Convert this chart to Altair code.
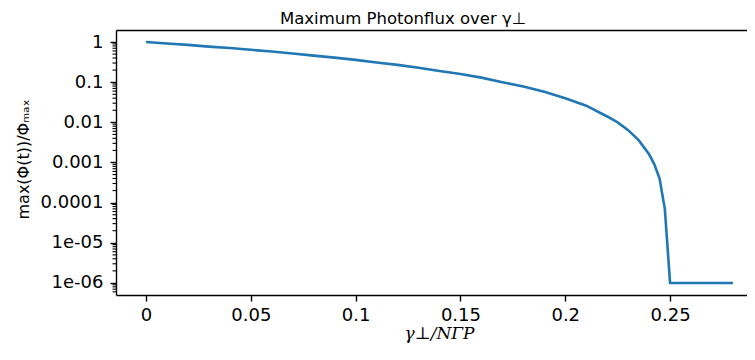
import altair as alt
import pandas as pd

# Data
gamma = [0.0, 0.01, 0.02, 0.03, 0.04, 0.05, 0.06, 0.07, 0.08, 0.09, 0.10,
         0.11, 0.12, 0.13, 0.14, 0.15, 0.16, 0.17, 0.18, 0.19, 0.20,
         0.21, 0.22, 0.225, 0.23, 0.235, 0.24, 0.2425, 0.245, 0.2475,
         0.25, 0.26, 0.27, 0.28]
flux = [1.0, 0.92, 0.85, 0.77, 0.71, 0.64, 0.58, 0.52, 0.46, 0.41, 0.36,
        0.31, 0.27, 0.23, 0.19, 0.16, 0.13, 0.10, 0.078, 0.058, 0.04,
        0.026, 0.014, 0.01, 0.0064, 0.0036, 0.0016, 0.0009, 0.0004, 0.00007,
        1e-6, 1e-6, 1e-6, 1e-6]

x_ticks = [0, 0.05, 0.1, 0.15, 0.2, 0.25]
x_labels = ["0", "0.05", "0.1", "0.15", "0.2", "0.25"]
y_ticks = [1, 0.1, 0.01, 0.001, 0.0001, 1e-5, 1e-6]
y_labels = ["1", "0.1", "0.01", "0.001", "0.0001", "1e-05", "1e-06"]
minor_mult = [2, 3, 4, 5, 6, 7, 8, 9]
minor_decades = [-7, -6, -5, -4, -3, -2, -1, 0]

df = pd.DataFrame({"x": gamma, "v": flux})
minor_vals = [m * 10.0 ** d for d in minor_decades for m in minor_mult]
minor_vals = [v for v in minor_vals if 5.01e-7 <= v <= 1.99]
df_minor = pd.DataFrame({"v": minor_vals})

FONT = "DejaVu Sans"
FS = 18

# plot area spans page x 116..747 (631 px); 2096 px per unit
xscale = alt.Scale(domain=[-0.0143, 0.2867], nice=False, zero=False)
yscale = alt.Scale(type="log", domain=[5.01e-7, 1.995], nice=False)

xlab_expr = "[" + ",".join("'%s'" % s for s in x_labels) + "][round(datum.value/0.05)]"
ylab_expr = "[" + ",".join("'%s'" % s for s in y_labels) + "][round(-log(datum.value)/LN10)]"

x_axis = alt.Axis(
    values=x_ticks, labelExpr=xlab_expr, grid=False,
    domainColor="black", domainWidth=1.4, tickColor="black", tickWidth=1.4,
    tickSize=6, labelPadding=5, labelFont=FONT, labelFontSize=FS, labelColor="black",
    title="γ⊥/NΓP", titleFont="DejaVu Serif", titleFontStyle="italic",
    titleFontWeight="normal", titleFontSize=17, titleColor="black",
    titleX=323, titleY=43, titleBaseline="alphabetic", titleAlign="center",
)
y_axis = alt.Axis(
    values=y_ticks, labelExpr=ylab_expr, grid=False,
    domainColor="black", domainWidth=1.4, tickColor="black", tickWidth=1.4,
    tickSize=6, labelPadding=7, labelFont=FONT, labelFontSize=FS, labelColor="black",
    labelBaseline="middle",
    title="max(Φ(t))/Φₘₐₓ", titleFont=FONT, titleFontWeight="normal",
    titleFontSize=16, titleColor="black", titleAngle=270,
    titleX=-88, titleY=129, titleBaseline="alphabetic", titleAlign="center",
)

line = alt.Chart(df).mark_line(color="#1f77b4", strokeWidth=2.6).encode(
    x=alt.X("x:Q", scale=xscale, axis=x_axis),
    y=alt.Y("v:Q", scale=yscale, axis=y_axis),
)

top_spine = alt.Chart(df).mark_line(opacity=0).encode(
    x=alt.X("x:Q", scale=xscale,
            axis=alt.Axis(orient="top", labels=False, ticks=False, grid=False,
                          domain=True, domainColor="black", domainWidth=1.4, title=None)),
    y=alt.Y("v:Q", scale=yscale),
)

minor = alt.Chart(df_minor).mark_rule(color="black", strokeWidth=1.1).encode(
    x=alt.value(0), x2=alt.value(-3.5),
    y=alt.Y("v:Q", scale=yscale),
)

chart = alt.layer(line, top_spine, minor).resolve_axis(x="independent").properties(
    width=631, height=265,
    padding={"left": 108, "top": 22, "right": 0, "bottom": 55},
    autosize=alt.AutoSizeParams(type="none"),
    title=alt.TitleParams(
        "Maximum Photonflux over γ⊥", anchor="start", frame="group", dx=164, font=FONT,
        fontSize=16.5, fontWeight="normal", color="black", offset=3,
    ),
).configure_view(stroke=None)

chart.save("out.html", embed_options={"renderer": "svg", "actions": False})
